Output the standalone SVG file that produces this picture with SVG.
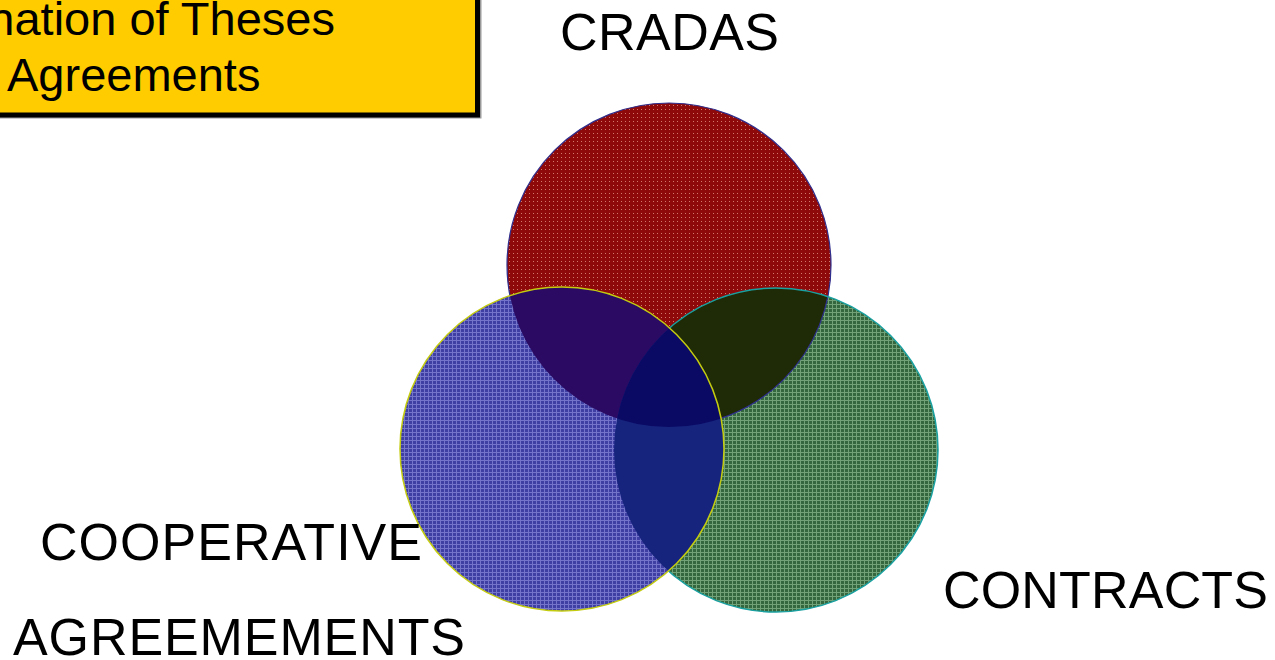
<svg xmlns="http://www.w3.org/2000/svg" width="1275" height="660" viewBox="0 0 1275 660">
<style>
.lbl{font-family:"Liberation Sans",Arial,Helvetica,sans-serif;fill:#000;}
.big{font-size:52px;}
.box{font-size:47px;}
</style>
<defs>
<pattern id="pRed" width="4" height="4" patternUnits="userSpaceOnUse">
<rect width="4" height="4" fill="#8E0A0A"/>
<rect x="1" y="1" width="1" height="1" fill="#D27A6E"/>
</pattern>
<pattern id="pBlue" width="4" height="4" patternUnits="userSpaceOnUse">
<rect width="4" height="4" fill="#3F3FA3"/>
<rect x="0" y="0" width="1" height="4" fill="#7474CA"/>
<rect x="0" y="0" width="4" height="1" fill="#7474CA"/>
</pattern>
<pattern id="pGreen" width="4" height="4" patternUnits="userSpaceOnUse">
<rect width="4" height="4" fill="#34673D"/>
<rect x="0" y="0" width="1" height="4" fill="#72A277"/>
<rect x="0" y="0" width="4" height="1" fill="#72A277"/>
</pattern>
<clipPath id="cRed"><circle cx="669" cy="265" r="162"/></clipPath>
<clipPath id="cGreen"><circle cx="776" cy="450" r="162"/></clipPath>
<clipPath id="cBlue"><circle cx="562" cy="449" r="162"/></clipPath>
</defs>
<rect width="1275" height="660" fill="#FFFFFF"/>

<g id="title-box">
<rect x="-8" y="-8" width="489.5" height="126.5" fill="#999999"/>
<rect x="-10" y="-10" width="487.5" height="125" fill="#FFCC00" stroke="#000" stroke-width="5"/>
<text class="lbl box" x="335" y="35" text-anchor="end">nation of Theses</text>
<text class="lbl box" x="7" y="91">Agreements</text>
</g>

<g id="cradas">
<circle cx="669" cy="265" r="162" fill="url(#pRed)"/>
<text class="lbl big" x="560" y="50" textLength="219">CRADAS</text>
</g>

<g id="contracts">
<circle cx="776" cy="450" r="162" fill="url(#pGreen)"/>
<g clip-path="url(#cRed)"><circle cx="776" cy="450" r="162" fill="#1F2A07"/></g>
<circle cx="669" cy="265" r="162" fill="none" stroke="#2E2E8E" stroke-width="1.2"/>
<circle cx="776" cy="450" r="162" fill="none" stroke="#1AA0A0" stroke-width="1.5"/>
<text class="lbl big" x="943" y="608" textLength="325">CONTRACTS</text>
</g>

<g id="cooperative-agreements">
<circle cx="562" cy="449" r="162" fill="url(#pBlue)"/>
<g clip-path="url(#cBlue)">
<circle cx="669" cy="265" r="162" fill="#2A0A62"/>
<circle cx="776" cy="450" r="162" fill="#16247E"/>
<g clip-path="url(#cRed)"><circle cx="776" cy="450" r="162" fill="#0A0A64"/></g>
</g>
<circle cx="562" cy="449" r="162" fill="none" stroke="#C4CC10" stroke-width="1.5"/>
<text class="lbl big" x="40" y="560" textLength="382">COOPERATIVE</text>
<text class="lbl big" x="13" y="655" textLength="452">AGREEMEMENTS</text>
</g>

<g id="connectors"/>
</svg>
